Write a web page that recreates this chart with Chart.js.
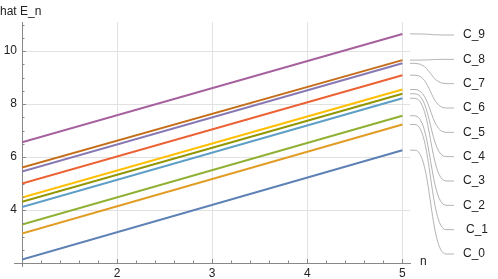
<!DOCTYPE html>
<html>
<head>
<meta charset="utf-8">
<script src="https://cdn.jsdelivr.net/npm/chart.js@4/dist/chart.umd.min.js"></script>
<style>
html,body{margin:0;padding:0;background:#fff;}
#wrap{width:498px;height:279px;position:relative;}
</style>
</head>
<body>
<div id="wrap"><canvas id="c" width="498" height="279"></canvas></div>
<script>
// ---- data ----
const nValues = [1, 5];
const C_0 = [2.13, 6.26];
const C_1 = [3.11, 7.23];
const C_2 = [3.45, 7.56];
const C_3 = [4.11, 8.22];
const C_4 = [4.31, 8.39];
const C_5 = [4.47, 8.55];
const C_6 = [5.00, 9.09];
const C_7 = [5.45, 9.54];
const C_8 = [5.60, 9.66];
const C_9 = [6.56, 10.65];
const seriesNames = ["C_0","C_1","C_2","C_3","C_4","C_5","C_6","C_7","C_8","C_9"];
const seriesValues = [C_0,C_1,C_2,C_3,C_4,C_5,C_6,C_7,C_8,C_9];
const xTicks = [2, 3, 4, 5];
const yTicks = [4, 6, 8, 10];
const xTitle = "n";
const yTitle = "hat E_n";

const colors = ["#5E81B5","#E19C24","#8FB032","#5D9EC7","#929600","#FFBF00","#EB6235","#8778B3","#C56E1A","#A5609D"];
const FONT = "'Liberation Sans', Arial, sans-serif";

const datasets = seriesNames.map((name, i) => ({
  label: name,
  data: nValues.map((x, j) => ({x: x, y: seriesValues[i][j]})),
  borderColor: colors[i],
  backgroundColor: colors[i],
  borderWidth: 2,
  pointRadius: 0,
  tension: 0,
  fill: false
}));

const extras = {
  id: 'extras',
  afterDraw(chart) {
    const ctx = chart.ctx;
    const xs = chart.scales.x, ys = chart.scales.y;
    const a = chart.chartArea;
    ctx.save();
    ctx.strokeStyle = "#888";
    ctx.lineWidth = 1;
    // axis line extensions past the crossing point
    ctx.beginPath();
    ctx.moveTo(a.left - 8, a.bottom + 0.5);
    ctx.lineTo(a.left, a.bottom + 0.5);
    ctx.moveTo(a.left + 0.5, a.bottom);
    ctx.lineTo(a.left + 0.5, a.bottom + 4);
    ctx.stroke();
    // minor / major ticks (inward)
    for (let v = 1.2; v <= 5.0001; v += 0.2) {
      const px = Math.round(xs.getPixelForValue(v)) + 0.5;
      const major = Math.abs(v - Math.round(v)) < 1e-6;
      ctx.beginPath();
      ctx.moveTo(px, a.bottom);
      ctx.lineTo(px, a.bottom - (major ? 4 : 2.5));
      ctx.stroke();
    }
    for (let v = 2.5; v <= 11.0001; v += 0.5) {
      const py = Math.round(ys.getPixelForValue(v)) + 0.5;
      const major = yTicks.indexOf(Math.round(v * 10) / 10) >= 0;
      ctx.beginPath();
      ctx.moveTo(a.left, py);
      ctx.lineTo(a.left + (major ? 4 : 2.5), py);
      ctx.stroke();
    }
    // axis titles
    ctx.fillStyle = "#222";
    ctx.font = "12px " + FONT;
    ctx.textBaseline = "middle";
    ctx.textAlign = "left";
    ctx.fillText(yTitle, 0, 12);
    ctx.fillText(xTitle, a.right + 10, a.bottom - 1);
    // callout labels
    const n = seriesNames.length;
    const topY = a.top + 13, botY = a.bottom - 9;
    const step = (botY - topY) / (n - 1);
    ctx.strokeStyle = "#aaa";
    ctx.lineWidth = 0.9;
    for (let i = 0; i < n; i++) {
      const vals = seriesValues[i];
      const y0 = ys.getPixelForValue(vals[vals.length - 1]);
      const y1 = topY + (n - 1 - i) * step;
      const x0 = a.right;
      ctx.beginPath();
      ctx.moveTo(x0, y0);
      ctx.lineTo(x0 + 5, y0);
      ctx.bezierCurveTo(x0 + 21, y0, x0 + 20, y1, x0 + 36, y1);
      ctx.lineTo(x0 + 44, y1);
      ctx.stroke();
      ctx.fillText(seriesNames[i], x0 + 53 + (i === 1 ? 3 : 0), y1);
    }
    ctx.restore();
  }
};

new Chart(document.getElementById('c'), {
  type: 'line',
  data: { datasets },
  options: {
    responsive: false,
    animation: false,
    devicePixelRatio: 1,
    layout: { padding: { top: 22, right: 88, left: 0, bottom: 0 } },
    plugins: { legend: { display: false }, tooltip: { enabled: false } },
    scales: {
      x: {
        type: 'linear',
        min: 1, max: 5.08,
        afterBuildTicks: s => { s.ticks = xTicks.map(v => ({value: v})); },
        afterFit: s => { s.height = 16; },
        grid: { color: "#e2e2e2", lineWidth: 1, drawTicks: false },
        border: { display: true, color: "#888", width: 1 },
        ticks: { color: "#222", font: { family: FONT, size: 12 }, padding: 3, maxRotation: 0 }
      },
      y: {
        type: 'linear',
        min: 2, max: 11.1,
        afterBuildTicks: s => { s.ticks = yTicks.map(v => ({value: v})); },
        afterFit: s => { s.width = 22; },
        grid: { color: "#e2e2e2", lineWidth: 1, drawTicks: false },
        border: { display: true, color: "#888", width: 1 },
        ticks: { color: "#222", font: { family: FONT, size: 12 }, padding: 5 }
      }
    }
  },
  plugins: [extras]
});
</script>
</body>
</html>
